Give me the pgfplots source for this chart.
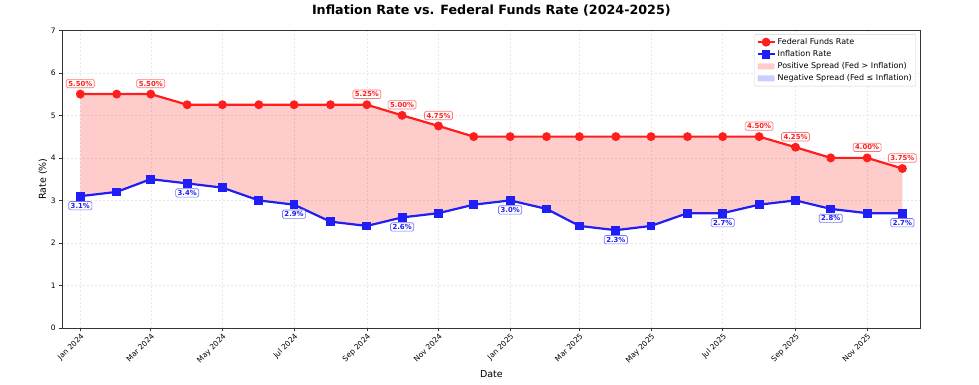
\documentclass[border=0pt]{standalone}
\usepackage{fontspec}
\setmainfont{DejaVu Sans}
\usepackage{pgfplots}
\pgfplotsset{compat=1.18}
\usepgfplotslibrary{fillbetween}
\definecolor{fedred}{RGB}{255,30,30}
\definecolor{infblue}{RGB}{30,30,245}
\begin{document}
\begin{tikzpicture}
\path (0,0) rectangle (979pt,385pt);
\begin{axis}[
  set layers,
  at={(62.7pt,57pt)}, anchor=south west,
  scale only axis, width=857.3pt, height=297.7pt,
  xmin=-15, xmax=715, ymin=0, ymax=7,
  xtick={0,60,121,182,244,305,366,425,486,547,609,670},
  xticklabels={Jan 2024,Mar 2024,May 2024,Jul 2024,Sep 2024,Nov 2024,Jan 2025,Mar 2025,May 2025,Jul 2025,Sep 2025,Nov 2025},
  ytick={0,1,2,3,4,5,6,7},
  /pgf/number format/assume math mode=true,
  x tick label style={rotate=45, anchor=north east, font=\fontsize{7.5}{8}\selectfont, inner sep=1pt},
  y tick label style={font=\fontsize{7.5}{8}\selectfont},
  tick align=outside, tick pos=left,
  major tick length=3.5pt,
  every tick/.style={black!80, line width=0.6pt},
  axis line style={black!80, line width=0.8pt},
  grid=major,
  major grid style={dash pattern=on 2pt off 2pt, gray!18, line width=0.5pt},
  xlabel={Date}, ylabel={Rate (\%)},
  xlabel style={font=\fontsize{9.5}{10}\selectfont, yshift=-1pt},
  ylabel style={font=\fontsize{9.5}{10}\selectfont, yshift=-3pt},
  title={\bfseries Inflation Rate vs. Federal Funds Rate (2024-2025)},
  title style={font=\fontsize{12.7}{14}\selectfont, at={(0.5,1)}, anchor=south, yshift=5pt},
  legend style={at={(0.9953,0.987)}, anchor=north east, font=\fontsize{8}{9.5}\selectfont,
    draw=gray!35, rounded corners=1pt, cells={anchor=west}, row sep=0.5pt, inner sep=2pt},
]
\addplot[name path=fed, fedred, line width=2.2pt, mark=*, mark size=3.3pt] coordinates {
(0,5.5)(31,5.5)(60,5.5)(91,5.25)(121,5.25)(152,5.25)(182,5.25)(213,5.25)(244,5.25)(274,5.0)(305,4.75)(335,4.5)
(366,4.5)(397,4.5)(425,4.5)(456,4.5)(486,4.5)(517,4.5)(547,4.5)(578,4.5)(609,4.25)(639,4.0)(670,4.0)(700,3.75)};
\addlegendentry{Federal Funds Rate}
\addplot[name path=inf, infblue, line width=2.2pt, mark=square*, mark size=3.3pt] coordinates {
(0,3.1)(31,3.2)(60,3.5)(91,3.4)(121,3.3)(152,3.0)(182,2.9)(213,2.5)(244,2.4)(274,2.6)(305,2.7)(335,2.9)
(366,3.0)(397,2.8)(425,2.4)(456,2.3)(486,2.4)(517,2.7)(547,2.7)(578,2.9)(609,3.0)(639,2.8)(670,2.7)(700,2.7)};
\addlegendentry{Inflation Rate}
\addplot[fill=red, fill opacity=0.2, draw=none, forget plot] fill between[of=fed and inf];
\addlegendimage{legend image code/.code={\path[draw=none, fill=red, fill opacity=0.2] (0pt,-3pt) rectangle (17pt,3pt);}}
\addlegendentry{Positive Spread (Fed > Inflation)}
\addlegendimage{legend image code/.code={\path[draw=none, fill=blue, fill opacity=0.2] (0pt,-3pt) rectangle (17pt,3pt);}}
\addlegendentry{Negative Spread (Fed ≤ Inflation)}
% labels
\addplot[draw=none, forget plot, point meta=explicit symbolic,
  nodes near coords={\pgfplotspointmeta\%},
  nodes near coords style={font=\bfseries\fontsize{6.9}{7}\selectfont, text=fedred, draw=fedred!60, fill=white,
    rounded corners=1.5pt, inner xsep=2pt, inner ysep=1.6pt, line width=0.7pt, anchor=center, yshift=10.5pt}]
 coordinates {(0,5.5)[5.50](60,5.5)[5.50](244,5.25)[5.25](274,5.0)[5.00](305,4.75)[4.75]
 (578,4.5)[4.50](609,4.25)[4.25](670,4.0)[4.00](700,3.75)[3.75]};
\addplot[draw=none, forget plot, point meta=explicit symbolic,
  nodes near coords={\pgfplotspointmeta\%},
  nodes near coords style={font=\bfseries\fontsize{6.9}{7}\selectfont, text=infblue, draw=infblue!60, fill=white,
    rounded corners=1.5pt, inner xsep=2pt, inner ysep=1.6pt, line width=0.7pt, anchor=center, yshift=-9.5pt}]
 coordinates {(0,3.1)[3.1](91,3.4)[3.4](182,2.9)[2.9](274,2.6)[2.6](366,3.0)[3.0](456,2.3)[2.3]
 (547,2.7)[2.7](639,2.8)[2.8](700,2.7)[2.7]};
\end{axis}
\end{tikzpicture}
\end{document}
